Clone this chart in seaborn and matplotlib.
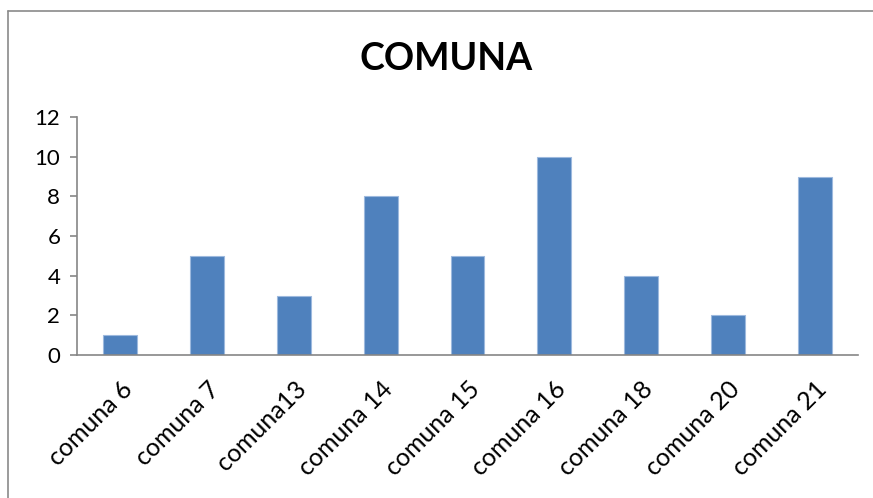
import matplotlib
matplotlib.use("Agg")
import matplotlib.pyplot as plt
from matplotlib.lines import Line2D
import seaborn as sns
import pandas as pd

# Count per comuna
categories = ["comuna 6", "comuna 7", "comuna13", "comuna 14", "comuna 15",
              "comuna 16", "comuna 18", "comuna 20", "comuna 21"]
values = [1, 5, 3, 8, 5, 10, 4, 2, 9]
y_ticks = [0, 2, 4, 6, 8, 10, 12]

df = pd.DataFrame({"comuna": categories, "count": values})

sns.set_style("white")
plt.rcParams["font.family"] = ["Lato", "DejaVu Sans"]
plt.rcParams["text.color"] = "black"
plt.rcParams["xtick.labelcolor"] = "black"
plt.rcParams["ytick.labelcolor"] = "black"

fig = plt.figure(figsize=(8.73, 4.98), dpi=100)
ax = fig.add_axes([77 / 873, 1 - 355 / 498, (858 - 77) / 873, (355 - 117) / 498])

sns.barplot(data=df, x="comuna", y="count", color="#4F81BD", saturation=1,
            width=0.39, edgecolor="#9DB9DE", linewidth=0.8, ax=ax)

ax.set_xlim(-0.5, len(categories) - 0.5)
ax.set_ylim(0, 12)
ax.set_yticks(y_ticks)
ax.set_xlabel("")
ax.set_ylabel("")

gray = "#868686"
for side in ["top", "right"]:
    ax.spines[side].set_visible(False)
for side in ["left", "bottom"]:
    ax.spines[side].set_color(gray)
    ax.spines[side].set_linewidth(1.2)

# Category labels rotated, tick marks between categories
ax.set_xticks(range(len(categories)))
ax.set_xticklabels(categories, rotation=45, ha="right", rotation_mode="anchor")
ax.set_xticks([i - 0.5 for i in range(len(categories) + 1)], minor=True)
ax.tick_params(axis="x", which="major", length=0, pad=16, labelsize=18)
ax.tick_params(axis="x", which="minor", length=5, width=1.2, color=gray, direction="out")
ax.tick_params(axis="y", which="major", length=5, width=1.2, color=gray,
               direction="out", left=True, pad=7, labelsize=16)

fig.text(0.511, 0.881, "COMUNA", ha="center", va="center",
         fontsize=27, fontweight="bold", color="black")

# Chart area frame (left and top edges)
fig.add_artist(Line2D([7.5 / 873, 7.5 / 873], [0, 1 - 11 / 498],
                      transform=fig.transFigure, color="#8A8A8A", lw=1.2))
fig.add_artist(Line2D([7.5 / 873, 1], [1 - 11 / 498, 1 - 11 / 498],
                      transform=fig.transFigure, color="#8A8A8A", lw=1.2))

fig.savefig("out.png", dpi=100)
